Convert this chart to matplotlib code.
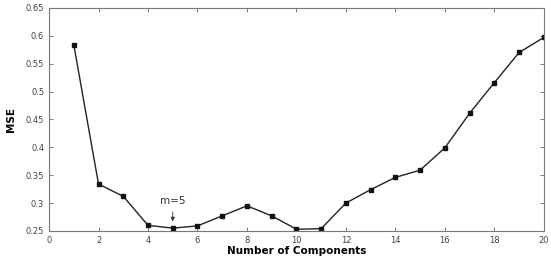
import matplotlib
matplotlib.use("Agg")
import matplotlib.pyplot as plt

components = list(range(1, 21))
mse = [0.584, 0.334, 0.312, 0.260, 0.255, 0.259, 0.277, 0.295, 0.277, 0.253,
       0.254, 0.300, 0.324, 0.346, 0.359, 0.399, 0.461, 0.516, 0.570, 0.597]
xticks = list(range(0, 21, 2))
yticks = [0.25, 0.3, 0.35, 0.4, 0.45, 0.5, 0.55, 0.6, 0.65]
ytick_labels = ["0.25", "0.3", "0.35", "0.4", "0.45", "0.5", "0.55", "0.6", "0.65"]

fig = plt.figure(figsize=(5.51, 2.63), dpi=100)
ax = fig.add_axes([0.089, 0.122, 0.898, 0.848])
ax.plot(components, mse, color="#222222", lw=1.0, marker="s", ms=2.5,
        mfc="#111111", mec="#111111")
ax.set_xlim(0, 20)
ax.set_ylim(0.25, 0.65)
ax.set_xticks(xticks)
ax.set_yticks(yticks)
ax.set_yticklabels(ytick_labels)
ax.tick_params(direction="in", top=True, right=True, length=3, width=0.6,
               labelsize=6, colors="#666666", labelcolor="#444444")
for s in ax.spines.values():
    s.set_color("#777777")
    s.set_linewidth(0.8)
ax.set_xlabel("Number of Components", fontsize=7.5, fontweight="bold", labelpad=1)
ax.set_ylabel("MSE", fontsize=7.5, fontweight="bold", labelpad=7)
ax.annotate("m=5", xy=(5, 0.262), xytext=(5, 0.294), ha="center", va="bottom",
            fontsize=7.5, color="#333333",
            arrowprops=dict(arrowstyle="-|>", color="#333333", lw=0.6,
                            mutation_scale=6))
fig.savefig("out.png", dpi=100)
